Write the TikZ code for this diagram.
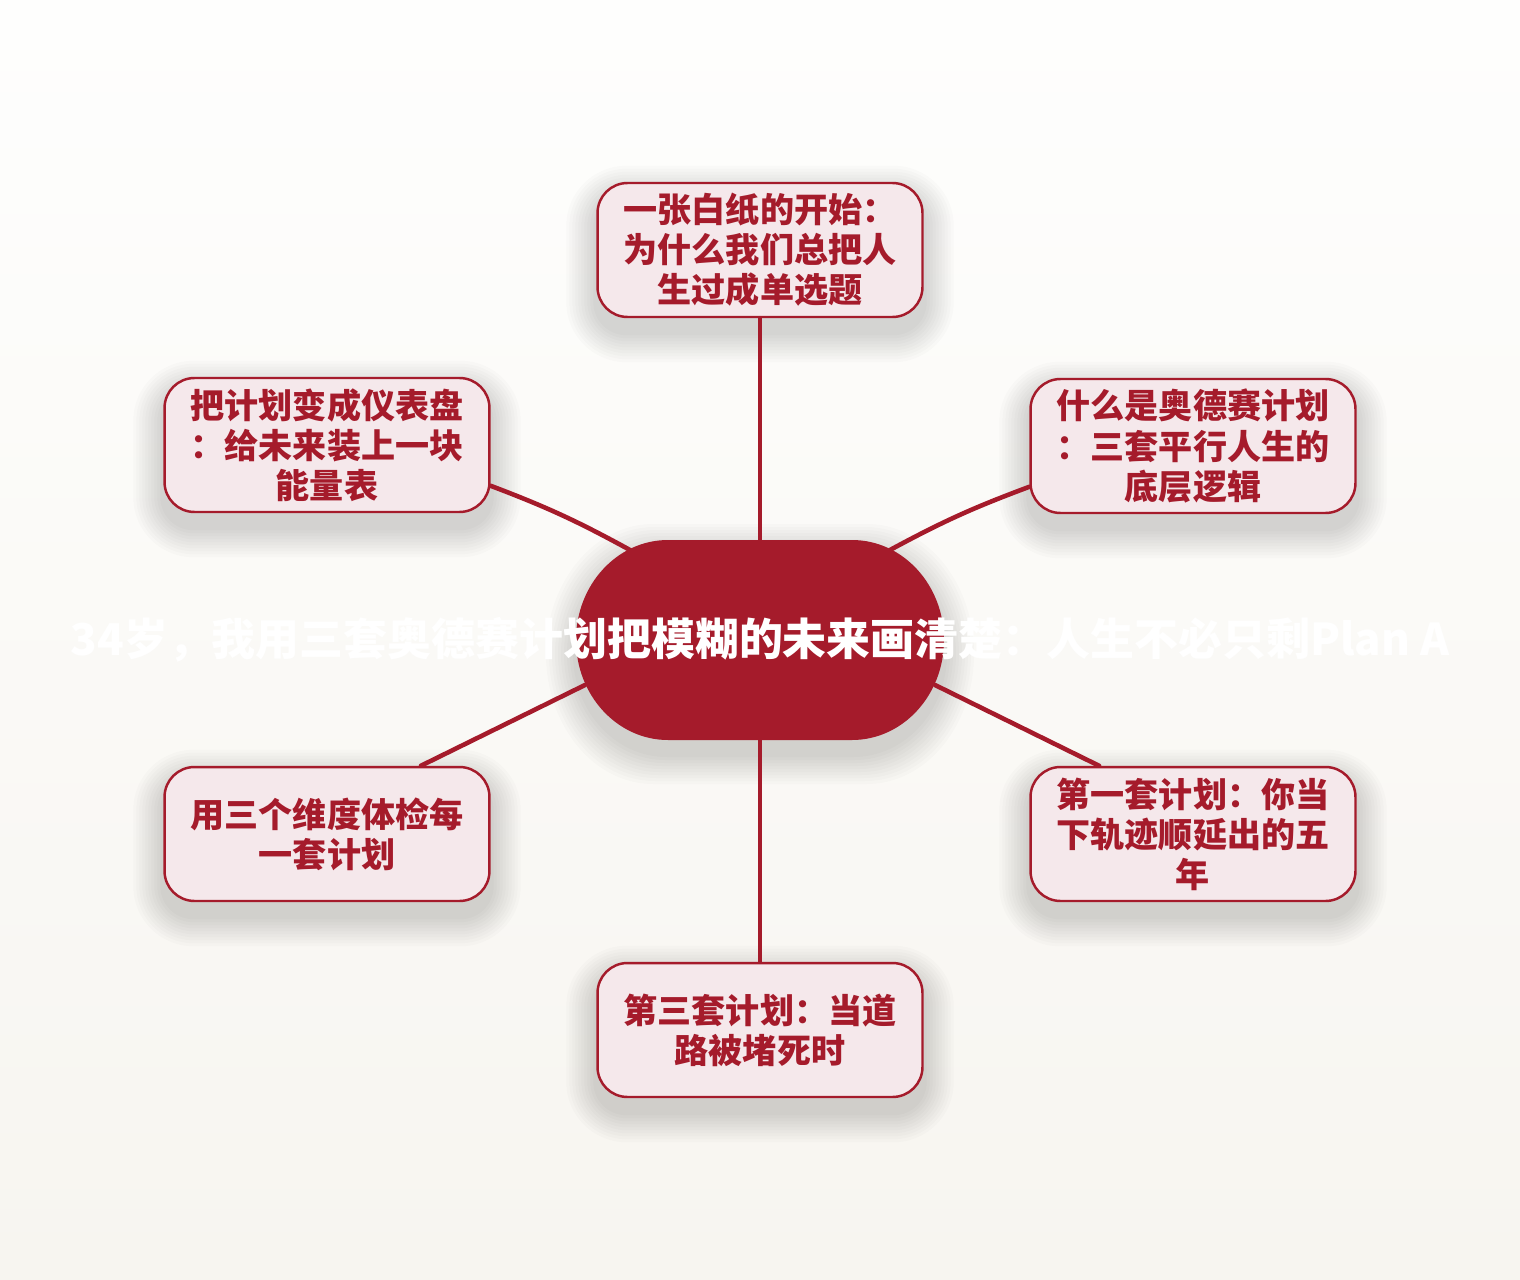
\documentclass[tikz,border=0pt]{standalone}
\usepackage{fontspec}
\setmainfont{Noto Sans CJK SC}
\usetikzlibrary{backgrounds}
\definecolor{hubred}{HTML}{A51B2B}
\definecolor{leaffill}{HTML}{F5E8EB}
\definecolor{bgtop}{HTML}{FEFEFD}
\definecolor{bgbottom}{HTML}{F7F5F0}

\begin{document}
\begin{tikzpicture}
  [x=0.02cm,y=-0.02cm,line cap=round,
   % Styles
   topic/.style={draw=hubred,line width=1.4pt,fill=leaffill,rounded corners=0.6cm,
     minimum width=6.5cm,minimum height=2.68cm,inner sep=0pt,align=center,
     text=hubred,font=\fontsize{19.4}{22.8}\selectfont\bfseries},
   link/.style={hubred,line width=2.6pt},
   shadow layer/.style={black,opacity=0.016},
   title text/.style={text=white,inner sep=0pt,
     font=\fontsize{25}{30}\selectfont\bfseries}]

  % Topics
  \node[topic] (top) at (760,250)
    {一张白纸的开始：\\为什么我们总把人\\生过成单选题};
  \node[topic] (ur) at (1193,446)
    {什么是奥德赛计划\\：三套平行人生的\\底层逻辑};
  \node[topic] (ul) at (327,445)
    {把计划变成仪表盘\\：给未来装上一块\\能量表};
  \node[topic] (ll) at (327,834)
    {用三个维度体检每\\一套计划};
  \node[topic] (lr) at (1193,834)
    {第一套计划：你当\\下轨迹顺延出的五\\年};
  \node[topic] (bot) at (760,1030)
    {第三套计划：当道\\路被堵死时};

  % Hub border points
  \coordinate (hub) at (760,640);
  \coordinate (hub top) at ([shift={(0,-100)}]hub);
  \coordinate (hub bot) at ([shift={(0,100)}]hub);
  \coordinate (hub ul) at ([shift={(-130,-90)}]hub);
  \coordinate (hub ur) at ([shift={(130,-90)}]hub);
  \coordinate (hub ll) at ([shift={(-175,45)}]hub);
  \coordinate (hub lr) at ([shift={(175,45)}]hub);

  % Background and soft shadows
  \begin{pgfonlayer}{background}
    \shade[top color=bgtop,bottom color=bgbottom] (0,0) rectangle (1520,1280);
    \foreach \n in {top,ur,ul,ll,lr,bot}
      \foreach \s in {1,...,10} {
        \pgfmathsetmacro\e{3*\s}
        \pgfmathsetmacro\rr{0.6+0.02*\e}
        \fill[shadow layer,rounded corners=\rr cm]
          ([shift={(-\e,-\e+14)}]\n.north west) rectangle ([shift={(\e,\e+14)}]\n.south east);
      }
    \foreach \s in {1,...,10} {
      \pgfmathsetmacro\e{3*\s}
      \fill[shadow layer,shift={(760,654)},xscale={(184+\e)/184},yscale={(100+\e)/100}]
        (-92,-100) -- (92,-100)
        .. controls (142.8,-100) and (184,-55.2) .. (184,0)
        .. controls (184,55.2) and (142.8,100) .. (92,100)
        -- (-92,100)
        .. controls (-142.8,100) and (-184,55.2) .. (-184,0)
        .. controls (-184,-55.2) and (-142.8,-100) .. (-92,-100) -- cycle;
    }
  \end{pgfonlayer}
  \useasboundingbox (0,0) rectangle (1520,1280);

  % Connectors
  \draw[link] (top.south) -- (hub top);
  \draw[link] (bot.north) -- (hub bot);
  \draw[link] (ul.-14) to[bend left=4] (hub ul);
  \draw[link] (ur.194) to[bend right=4] (hub ur);
  \draw[link] (ll.36) -- (hub ll);
  \draw[link] (lr.144) -- (hub lr);

  % The hub
  \fill[hubred] (668,540) -- (852,540)
    .. controls (902.8,540) and (944,584.8) .. (944,640)
    .. controls (944,695.2) and (902.8,740) .. (852,740)
    -- (668,740)
    .. controls (617.2,740) and (576,695.2) .. (576,640)
    .. controls (576,584.8) and (617.2,540) .. (668,540) -- cycle;
  \node[title text] (title) at (hub)
    {34岁，我用三套奥德赛计划把模糊的未来画清楚：人生不必只剩Plan A};
\end{tikzpicture}
\end{document}
